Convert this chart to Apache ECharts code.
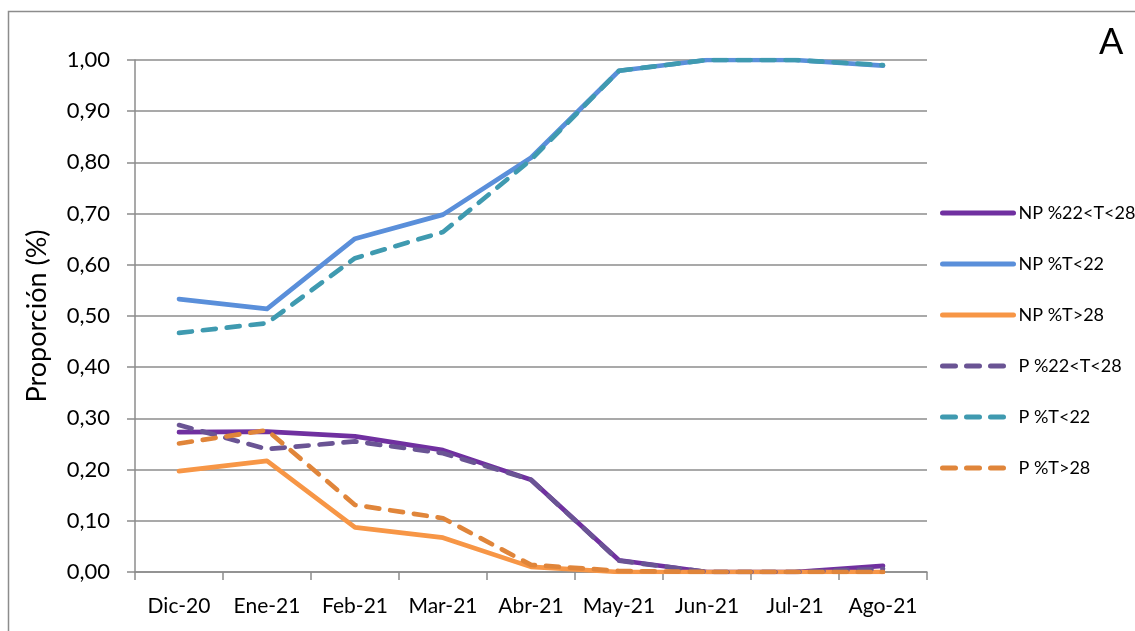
<!DOCTYPE html>
<html>
<head>
<meta charset="utf-8">
<script src="https://cdn.jsdelivr.net/npm/echarts@6/dist/echarts.min.js"></script>
<style>
html,body{margin:0;padding:0;background:#fff;}
#chart{width:1135px;height:631px;}
</style>
</head>
<body>
<div id="chart"></div>
<script>
const categories = ['Dic-20','Ene-21','Feb-21','Mar-21','Abr-21','May-21','Jun-21','Jul-21','Ago-21'];
const yTicks = [0,0.1,0.2,0.3,0.4,0.5,0.6,0.7,0.8,0.9,1.0];
const np_22_28 = [0.273,0.274,0.265,0.238,0.180,0.023,0.000,0.000,0.012];
const np_lt22  = [0.533,0.514,0.651,0.698,0.809,0.979,1.000,1.000,0.989];
const np_gt28  = [0.197,0.217,0.087,0.067,0.010,0.000,0.000,0.000,0.000];
const p_22_28  = [0.287,0.240,0.255,0.232,0.180,0.022,0.000,0.000,0.006];
const p_lt22   = [0.467,0.486,0.613,0.664,0.805,0.979,1.000,1.000,0.990];
const p_gt28   = [0.251,0.277,0.131,0.105,0.014,0.002,0.000,0.000,0.000];
const seriesNames = ['NP %22<T<28','NP %T<22','NP %T>28','P %22<T<28','P %T<22','P %T>28'];

const FONT = 'Lato';
const chart = echarts.init(document.getElementById('chart'));
function mk(name, data, color, dashed) {
  return {
    name, type: 'line', data, symbol: 'none', smooth: false,
    lineStyle: { color, width: 4.7, type: dashed ? [13, 11] : 'solid', cap: 'round', join: 'round' },
    itemStyle: { color },
    z: dashed ? 3 : 2
  };
}
chart.setOption({
  animation: false,
  backgroundColor: '#fff',
  graphic: [
    { type: 'rect', shape: { x: 8.5, y: 11.5, width: 1200, height: 700 }, style: { fill: 'none', stroke: '#8c8c8c', lineWidth: 1.5 }, silent: true },
    { type: 'text', left: 1099, top: 24, style: { text: 'A', font: '36px ' + FONT, fill: '#000' } }
  ],
  grid: { left: 135, right: 208, top: 60, bottom: 59 },
  legend: {
    orient: 'vertical', left: 935, top: 199,
    itemWidth: 71, itemHeight: 10, itemGap: 33,
    itemStyle: { opacity: 0 },
    lineStyle: { width: 5 },
    textStyle: { fontFamily: FONT, fontSize: 18, color: '#000' },
    data: seriesNames
  },
  xAxis: {
    type: 'category', data: categories, boundaryGap: true,
    axisLine: { lineStyle: { color: '#8c8c8c', width: 1.5 } },
    axisTick: { show: true, length: 8, alignWithLabel: false, interval: 0, lineStyle: { color: '#8c8c8c', width: 1.5 } },
    axisLabel: { fontFamily: FONT, fontSize: 21, color: '#000', margin: 24, interval: 0 }
  },
  yAxis: {
    type: 'value', min: 0, max: 1, interval: 0.1,
    name: 'Proporción (%)', nameLocation: 'middle', nameGap: 84,
    nameTextStyle: { fontFamily: FONT, fontSize: 27, color: '#000' },
    axisLine: { show: true, lineStyle: { color: '#8c8c8c', width: 1.5 } },
    axisTick: { show: true, length: 8, lineStyle: { color: '#8c8c8c', width: 1.5 } },
    splitLine: { show: true, lineStyle: { color: '#8c8c8c', width: 1.5 } },
    axisLabel: { fontFamily: FONT, fontSize: 22, color: '#000', margin: 25,
      formatter: v => yTicks.some(t => Math.abs(t - v) < 1e-9) ? v.toFixed(2).replace('.', ',') : '' }
  },
  series: [
    mk(seriesNames[0], np_22_28, '#7030A0', false),
    mk(seriesNames[1], np_lt22, '#5A8FDA', false),
    mk(seriesNames[2], np_gt28, '#F79646', false),
    mk(seriesNames[3], p_22_28, '#6A5494', true),
    mk(seriesNames[4], p_lt22, '#3F9AB0', true),
    mk(seriesNames[5], p_gt28, '#E0853A', true)
  ]
});
</script>
</body>
</html>
